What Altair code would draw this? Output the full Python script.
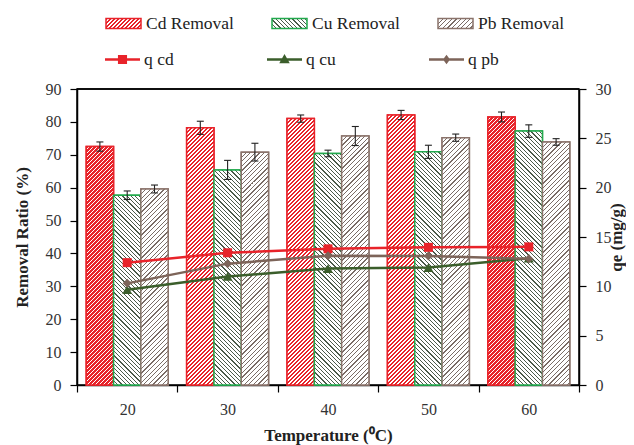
import json
import altair as alt

# ---------------- data ----------------
temps = [20, 30, 40, 50, 60]
cd_removal = [72.5, 78.2, 81.0, 82.1, 81.5]
cu_removal = [57.7, 65.4, 70.4, 70.9, 77.2]
pb_removal = [59.6, 70.8, 75.7, 75.2, 73.9]
cd_err = [1.4, 2.0, 1.1, 1.4, 1.5]
cu_err = [1.3, 2.9, 1.0, 2.0, 1.9]
pb_err = [1.2, 2.7, 2.9, 1.1, 1.0]
q_cd = [12.4, 13.4, 13.8, 13.95, 14.0]
q_cu = [9.65, 11.0, 11.8, 11.9, 12.85]
q_pb = [10.3, 12.3, 13.1, 13.07, 12.8]

bar_series = ["Cd Removal", "Cu Removal", "Pb Removal"]
q_series = ["q cd", "q cu", "q pb"]

# ---------------- layout / style ----------------
W, H = 502, 296
X_DOM = [15, 65]
Y_MAX = 90
Q_MAX = 30
BAR_W = 2.72
OFFSETS = [-BAR_W, 0.0, BAR_W]
FONT = "Liberation Serif"

RED = "#e8232a"
GREEN = "#22a94d"
BROWN = "#8a736b"
Q_COLORS = [RED, "#3b5e2b", "#7d6459"]

HATCH = {
    "Cd Removal": dict(color=RED, bg="#ffffff", period=4.0, line=2.3, dir="/"),
    "Cu Removal": dict(color="#4b5a4a", bg="#ffffff", period=4.2, line=1.25, dir="\\"),
    "Pb Removal": dict(color="#7a6c66", bg="#ffffff", period=4.6, line=1.2, dir="/"),
}


def hatch_gradient(w, h, spec):
    L = w + h
    c = L / (w * w + h * h)
    P, a = spec["period"], spec["line"]
    stops = []
    k = 0
    while k * P < L:
        s0 = k * P / L
        s1 = min((k * P + a) / L, 1.0)
        s2 = min((k + 1) * P / L, 1.0)
        stops += [
            {"offset": round(s0, 5), "color": spec["color"]},
            {"offset": round(s1, 5), "color": spec["color"]},
            {"offset": round(s1, 5), "color": spec["bg"]},
            {"offset": round(s2, 5), "color": spec["bg"]},
        ]
        k += 1
    if spec["dir"] == "/":
        return {"gradient": "linear", "x1": 0, "y1": 0, "x2": w * c, "y2": h * c, "stops": stops}
    return {"gradient": "linear", "x1": 0, "y1": 1, "x2": w * c, "y2": 1 - h * c, "stops": stops}


px_per_x = W / (X_DOM[1] - X_DOM[0])
bar_px = BAR_W * px_per_x

bar_rows = []
for si, (name, vals, errs) in enumerate(
    zip(bar_series, [cd_removal, cu_removal, pb_removal], [cd_err, cu_err, pb_err])
):
    for t, v, e in zip(temps, vals, errs):
        xc = t + OFFSETS[si]
        bar_rows.append({
            "series": name, "temp": t, "value": v,
            "x0": xc - BAR_W / 2, "x1": xc + BAR_W / 2, "xc": xc,
            "lo": v - e, "hi": v + e,
            "grad": hatch_gradient(bar_px, v * H / Y_MAX, HATCH[name]),
        })

q_rows = []
for name, vals in zip(q_series, [q_cd, q_cu, q_pb]):
    for t, v in zip(temps, vals):
        q_rows.append({"qseries": name, "temp": t, "q": v})

bar_data = alt.Data(values=bar_rows)
q_data = alt.Data(values=q_rows)

# ---------------- axes ----------------
common_axis = dict(
    tickSize=7, tickColor="black", tickWidth=1.2, domainColor="black", domainWidth=1.5,
    labelFont=FONT, labelFontSize=16, labelColor="#333333", grid=False,
    titleFont=FONT, titleFontSize=17, titleFontWeight="bold", titleColor="#222222",
)
x_axis = alt.Axis(
    title="Temperature (\u2070C)", values=[15, 20, 25, 30, 35, 40, 45, 50, 55, 60, 65],
    labelExpr="datum.value % 10 == 0 ? datum.label : ''",
    tickOpacity={"condition": {"test": "datum.value % 10 == 5", "value": 1}, "value": 0},
    labelOverlap=False, labelPadding=9, titlePadding=10, **common_axis,
)
y_axis = alt.Axis(
    title="Removal Ratio (%)", values=list(range(0, 91, 10)), labelPadding=9,
    titlePadding=14, labelOverlap=False, **common_axis,
)
q_axis = alt.Axis(
    title="qe (mg/g)", orient="right", values=list(range(0, 31, 5)), labelPadding=9,
    titleAngle=270, titleBaseline="top", titlePadding=-3, labelOverlap=False, **common_axis,
)

x_scale = alt.Scale(domain=X_DOM, nice=False, zero=False, padding=0)
y_scale = alt.Scale(domain=[0, Y_MAX], nice=False, padding=0)
q_scale = alt.Scale(domain=[0, Q_MAX], nice=False, padding=0)

# legend gradients for the bar swatches (35 x 10 px)
leg_grads = [
    {"expr": json.dumps(hatch_gradient(35, 10, HATCH[s]))} for s in bar_series
]

bar_legend = alt.Legend(
    title=None, orient="none", legendX=28, legendY=-84, direction="horizontal",
    symbolType="M-1,-0.29H1V0.29H-1Z", symbolSize=1225, symbolStrokeWidth=1.5,
    labelFont=FONT, labelFontSize=17.5, labelColor="#222222", labelOffset=4,
    columnPadding=35, padding=0,
)
# legend-entry colour looked up from the q series lists
q_fill_expr = "{}[indexof({}, datum.value)]".format(json.dumps(Q_COLORS), json.dumps(q_series))
q_legend = alt.Legend(
    title=None, orient="none", legendX=28, legendY=-47, direction="horizontal",
    symbolSize=1225, symbolStrokeWidth=0,
    labelFont=FONT, labelFontSize=17.5, labelColor="#222222", labelOffset=4,
    columnPadding=93, padding=0,
)

X_BAR = alt.X("x0:Q", scale=x_scale, axis=x_axis)
Y_BAR = alt.Y("value:Q", scale=y_scale, axis=y_axis)
bar_stroke_scale = alt.Scale(domain=bar_series, range=[RED, GREEN, BROWN])

bars_a = alt.Chart(bar_data).mark_bar(strokeWidth=1.5).encode(
    x=X_BAR, x2="x1:Q", y=Y_BAR, y2=alt.datum(0),
    fill=alt.Fill("series:N", scale=alt.Scale(domain=bar_series, range=leg_grads), legend=bar_legend),
    stroke=alt.Stroke("series:N", scale=bar_stroke_scale, legend=bar_legend),
)
bars_b = alt.Chart(bar_data).mark_bar(strokeWidth=1.5).encode(
    x=X_BAR, x2="x1:Q", y=Y_BAR, y2=alt.datum(0),
    fill=alt.Fill("grad:N", scale=None),
    stroke=alt.Stroke("series:N", scale=bar_stroke_scale, legend=bar_legend),
)
err_rule = alt.Chart(bar_data).mark_rule(color="#222222", strokeWidth=1.1).encode(
    x=alt.X("xc:Q", scale=x_scale, axis=x_axis),
    y=alt.Y("lo:Q", scale=y_scale, axis=y_axis), y2="hi:Q",
)
err_lo = alt.Chart(bar_data).mark_tick(orient="horizontal", size=7, thickness=1.1, color="#222222", opacity=1).encode(
    x=alt.X("xc:Q", scale=x_scale, axis=x_axis),
    y=alt.Y("lo:Q", scale=y_scale, axis=y_axis),
)
err_hi = alt.Chart(bar_data).mark_tick(orient="horizontal", size=7, thickness=1.1, color="#222222", opacity=1).encode(
    x=alt.X("xc:Q", scale=x_scale, axis=x_axis),
    y=alt.Y("hi:Q", scale=y_scale, axis=y_axis),
)
top_frame = alt.Chart(alt.Data(values=[{}])).mark_rule(color="black", strokeWidth=1.5).encode(
    x=alt.XDatum(datum=X_DOM[0], type="quantitative", scale=x_scale, axis=x_axis),
    x2=alt.X2Datum(datum=X_DOM[1]),
    y=alt.YDatum(datum=Y_MAX, type="quantitative", scale=y_scale, axis=y_axis),
)
left = alt.layer(bars_a, bars_b, err_rule, err_lo, err_hi, top_frame)

X_Q = alt.X("temp:Q", scale=x_scale, axis=x_axis)
Y_Q = alt.Y("q:Q", scale=q_scale, axis=q_axis)
q_color_scale = alt.Scale(domain=q_series, range=Q_COLORS)

lines = alt.Chart(q_data).mark_line(strokeWidth=2.5).encode(
    x=X_Q, y=Y_Q, stroke=alt.Stroke("qseries:N", scale=q_color_scale, legend=None),
)
marker_shapes = ["square", "triangle-up", "diamond"]
marker_sizes = [81, 100, 81]
pts = []
for name, shp, sz, col in zip(q_series, marker_shapes, marker_sizes, Q_COLORS):
    pts.append(
        alt.Chart(q_data).transform_filter(alt.datum.qseries == name)
        .mark_point(shape=shp, size=sz, filled=True, color=col, opacity=1)
        .encode(x=X_Q, y=Y_Q)
    )
# legend symbols: a short line segment (thin filled bar) with the series marker on it
legend_paths = [
    "M-1,-0.07H1V0.07H-1Z M-0.26,-0.26H0.26V0.26H-0.26Z",
    "M-1,-0.07H1V0.07H-1Z M0,-0.32L0.3,0.22H-0.3Z",
    "M-1,-0.07H1V0.07H-1Z M0,-0.27L0.2,0L0,0.27L-0.2,0Z",
]
legend_layer = (
    alt.Chart(q_data).transform_filter("false")
    .mark_point(filled=True, opacity=1, strokeWidth=0, color={"expr": q_fill_expr})
    .encode(
        shape=alt.Shape("qseries:N", scale=alt.Scale(domain=q_series, range=legend_paths), legend=q_legend),
    )
)
right = alt.layer(lines, *pts, legend_layer)

chart = (
    alt.layer(left, right)
    .resolve_scale(y="independent", fill="independent", stroke="independent")
    .properties(
        width=W, height=H,
        autosize=alt.AutoSizeParams(type="none"),
        padding={"left": 69, "top": 81, "right": 47, "bottom": 60},
        background="white",
    )
    .configure_view(stroke="black", strokeWidth=1.5)
)

chart.save("out.html", embed_options={"renderer": "svg", "actions": False})
